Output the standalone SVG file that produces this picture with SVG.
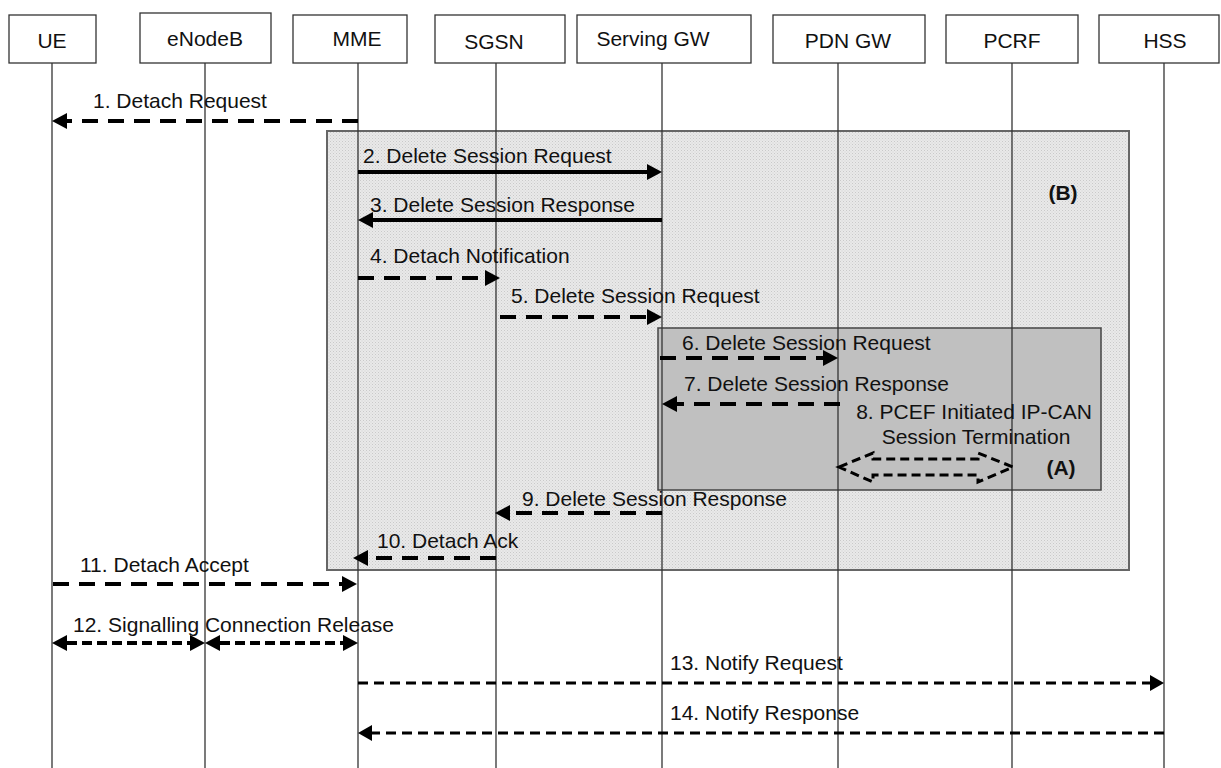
<svg xmlns="http://www.w3.org/2000/svg" width="1221" height="768" viewBox="0 0 1221 768">
<style>
.hdr{fill:#fff;stroke:#333;stroke-width:1.3}
.ht{font-family:"Liberation Sans",Arial,sans-serif;font-size:21px;fill:#111;text-anchor:middle}
.lbl{font-family:"Liberation Sans",Arial,sans-serif;font-size:21px;fill:#111}
.bold{font-family:"Liberation Sans",Arial,sans-serif;font-size:21px;font-weight:bold;fill:#111}
.life{stroke:#333;stroke-width:1.3}
.solid{stroke:#000;stroke-width:4;fill:none}
.dthick{stroke:#000;stroke-width:4;fill:none;stroke-dasharray:16 10}
.dshort{stroke:#000;stroke-width:4;fill:none;stroke-dasharray:10 5}
.dthin{stroke:#000;stroke-width:3;fill:none;stroke-dasharray:10 6}
</style>
<defs>
<pattern id="dots" width="3" height="3" patternUnits="userSpaceOnUse">
<rect width="3" height="3" fill="#e9e9e9"/>
<rect width="1" height="1" fill="#c9c9c9"/>
<rect x="1.5" y="1.5" width="1" height="1" fill="#d4d4d4"/>
</pattern>
<marker id="ah" markerUnits="userSpaceOnUse" markerWidth="15" markerHeight="16" refX="0" refY="8" orient="auto-start-reverse">
<path d="M0,0 L15,8 L0,16 z" fill="#000"/>
</marker>
<marker id="ahs" markerUnits="userSpaceOnUse" markerWidth="14" markerHeight="16" refX="0" refY="8" orient="auto-start-reverse">
<path d="M0,0 L14,8 L0,16 z" fill="#000"/>
</marker>
</defs>
<rect width="1221" height="768" fill="#fff"/>

<g id="boxB">
<rect x="327" y="131" width="802" height="439" fill="url(#dots)" stroke="#666" stroke-width="2"/>
<text class="bold" x="1063" y="200" text-anchor="middle">(B)</text>
</g>
<g id="boxA">
<rect x="658" y="328" width="443" height="162" fill="#c0c0c0" stroke="#444" stroke-width="1.5"/>
<text class="bold" x="1061" y="475" text-anchor="middle">(A)</text>
</g>

<g id="lifelines">
<line class="life" x1="52" y1="63" x2="52" y2="768"/>
<line class="life" x1="205" y1="63" x2="205" y2="768"/>
<line class="life" x1="358" y1="63" x2="358" y2="768"/>
<line class="life" x1="496" y1="63" x2="496" y2="768"/>
<line class="life" x1="662" y1="63" x2="662" y2="768"/>
<line class="life" x1="838" y1="63" x2="838" y2="768"/>
<line class="life" x1="1012" y1="63" x2="1012" y2="768"/>
<line class="life" x1="1164" y1="63" x2="1164" y2="768"/>
</g>

<g id="UE"><rect class="hdr" x="9" y="15" width="87" height="48"/><text class="ht" x="52" y="48">UE</text></g>
<g id="eNodeB"><rect class="hdr" x="140" y="13" width="131" height="50"/><text class="ht" x="205" y="46">eNodeB</text></g>
<g id="MME"><rect class="hdr" x="293" y="15" width="114" height="48"/><text class="ht" x="357" y="46">MME</text></g>
<g id="SGSN"><rect class="hdr" x="435" y="15" width="130" height="48"/><text class="ht" x="494" y="49">SGSN</text></g>
<g id="ServingGW"><rect class="hdr" x="577" y="15" width="174" height="48"/><text class="ht" x="653" y="46">Serving GW</text></g>
<g id="PDNGW"><rect class="hdr" x="773" y="15" width="152" height="48"/><text class="ht" x="848" y="48">PDN GW</text></g>
<g id="PCRF"><rect class="hdr" x="946" y="15" width="132" height="48"/><text class="ht" x="1012" y="48">PCRF</text></g>
<g id="HSS"><rect class="hdr" x="1099" y="15" width="120" height="48"/><text class="ht" x="1165" y="48">HSS</text></g>

<g id="connectors">
<line class="dthick" x1="358" y1="121" x2="67" y2="121" marker-end="url(#ah)"/>
<text class="lbl" x="93" y="108">1. Detach Request</text>

<line class="solid" x1="358" y1="172" x2="647" y2="172" marker-end="url(#ah)"/>
<text class="lbl" x="363" y="163">2. Delete Session Request</text>

<line class="solid" x1="662" y1="220" x2="373" y2="220" marker-end="url(#ah)"/>
<text class="lbl" x="370" y="212">3. Delete Session Response</text>

<line class="dthick" x1="358" y1="278" x2="485" y2="278" marker-end="url(#ah)"/>
<text class="lbl" x="370" y="263">4. Detach Notification</text>

<line class="dthick" x1="500" y1="317" x2="647" y2="317" marker-end="url(#ah)"/>
<text class="lbl" x="511" y="303">5. Delete Session Request</text>

<line class="dthick" x1="660" y1="358" x2="823" y2="358" marker-end="url(#ah)"/>
<text class="lbl" x="682" y="350">6. Delete Session Request</text>

<line class="dthick" x1="840" y1="404" x2="677" y2="404" marker-end="url(#ah)"/>
<text class="lbl" x="684" y="391">7. Delete Session Response</text>

<text class="lbl" x="974" y="419" text-anchor="middle">8. PCEF Initiated IP-CAN</text>
<text class="lbl" x="976" y="444" text-anchor="middle">Session Termination</text>
<path d="M839,467 L873,453 L873,459 L978,459 L978,453 L1013,467 L978,482 L978,475 L873,475 L873,482 Z" fill="none" stroke="#000" stroke-width="3" stroke-dasharray="9 5"/>

<line class="dthick" x1="662" y1="513" x2="510" y2="513" marker-end="url(#ah)"/>
<text class="lbl" x="522" y="506">9. Delete Session Response</text>

<line class="dthick" x1="496" y1="558" x2="368" y2="558" marker-end="url(#ah)"/>
<text class="lbl" x="377" y="548">10. Detach Ack</text>

<line class="dthick" x1="53" y1="584" x2="342" y2="584" marker-end="url(#ah)"/>
<text class="lbl" x="80" y="572">11. Detach Accept</text>

<line class="dshort" x1="67" y1="643" x2="190" y2="643" marker-start="url(#ah)" marker-end="url(#ah)"/>
<line class="dshort" x1="220" y1="643" x2="343" y2="643" marker-start="url(#ah)" marker-end="url(#ah)"/>
<text class="lbl" x="73" y="632">12. Signalling Connection Release</text>

<line class="dthin" x1="358" y1="683" x2="1150" y2="683" marker-end="url(#ahs)"/>
<text class="lbl" x="670" y="670">13. Notify Request</text>

<line class="dthin" x1="1164" y1="733" x2="372" y2="733" marker-end="url(#ahs)"/>
<text class="lbl" x="670" y="720">14. Notify Response</text>
</g>
</svg>
